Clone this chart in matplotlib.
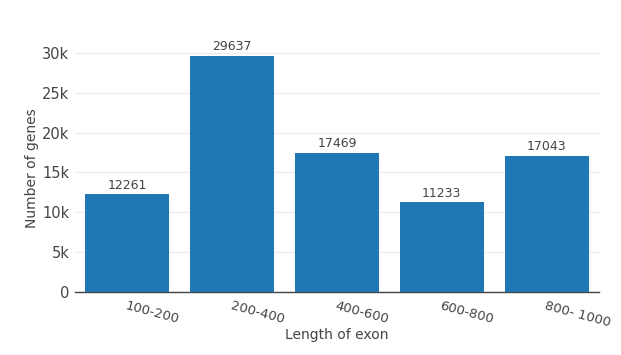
import matplotlib
matplotlib.use("Agg")
import matplotlib.pyplot as plt
from matplotlib.ticker import FuncFormatter

categories = ["100-200", "200-400", "400-600", "600-800", "800- 1000"]
values = [12261, 29637, 17469, 11233, 17043]
yticks = [0, 5000, 10000, 15000, 20000, 25000, 30000]

W, H = 621, 355
fig = plt.figure(figsize=(W/100, H/100), dpi=100)
left, right, top, bottom = 75, 599, 44, 292
ax = fig.add_axes([left/W, 1-bottom/H, (right-left)/W, (bottom-top)/H])

txt = "#444444"
x = list(range(len(categories)))
ax.bar(x, values, width=0.8, color="#1f77b4", zorder=3)
for xi, v in zip(x, values):
    ax.annotate(str(v), (xi, v), xytext=(0, 2), textcoords="offset points",
                ha="center", va="bottom", fontsize=9, color=txt)

ax.set_xlim(-0.5, len(categories)-0.5)
ax.set_ylim(0, max(values)*1.05)
ax.set_yticks(yticks)
ax.yaxis.set_major_formatter(FuncFormatter(lambda v, p: "0" if v == 0 else f"{int(v/1000)}k"))
ax.grid(axis="y", color="#eeeeee", linewidth=1, zorder=0)
for s in ["top", "right", "left"]:
    ax.spines[s].set_visible(False)
ax.spines["bottom"].set_color(txt)
ax.spines["bottom"].set_linewidth(1)
ax.tick_params(axis="y", length=0, labelsize=10.5, labelcolor=txt, pad=4)
ax.tick_params(axis="x", length=0, labelsize=9.5, labelcolor=txt, pad=5)
ax.set_xticks(x)
ax.set_xticklabels(categories, rotation=-15, ha="left", rotation_mode="anchor")
ax.set_xlabel("Length of exon", fontsize=10, color=txt, labelpad=-1)
ax.set_ylabel("Number of genes", fontsize=10, color=txt, labelpad=2)

fig.savefig("out.png", dpi=100)
